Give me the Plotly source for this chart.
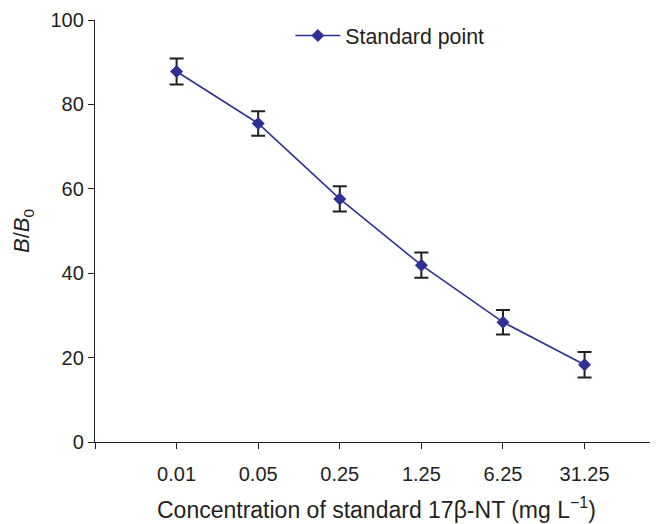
import plotly.graph_objects as go

categories = ["0.01", "0.05", "0.25", "1.25", "6.25", "31.25"]
positions = [1, 2, 3, 4, 5, 6]
values = [87.8, 75.5, 57.6, 41.9, 28.4, 18.3]
errors = [3.1, 2.9, 3.0, 3.0, 2.9, 3.0]

BLUE = "#2E3192"
INK = "#231F20"
FONT = "Liberation Sans, Arial, sans-serif"

fig = go.Figure()
fig.add_trace(go.Scatter(
    x=positions, y=values, mode="lines+markers", name="Standard point",
    line=dict(color=BLUE, width=1.6),
    marker=dict(symbol="diamond", size=10, color=BLUE),
    error_y=dict(type="data", array=errors, visible=True, color=INK, thickness=2, width=7),
))

fig.update_layout(
    width=650, height=516,
    margin=dict(l=87, r=0, t=12, b=82),
    paper_bgcolor="white", plot_bgcolor="white",
    font=dict(family=FONT, color=INK, size=20),
    showlegend=True,
    legend=dict(x=0.347, y=0.963, xanchor="left", yanchor="middle", itemwidth=45,
                bgcolor="rgba(0,0,0,0)", font=dict(size=21.3, color=INK)),
    xaxis=dict(
        range=[0, 6.9], tickmode="array", tickvals=[0] + positions,
        ticktext=[""] + categories, showline=True, linecolor=INK, linewidth=1.3,
        ticks="outside", ticklen=6, tickcolor=INK, showgrid=False, zeroline=False,
        ticklabelstandoff=8,
        title=dict(text="Concentration of standard 17β-NT (mg L<sup>−1</sup>)",
                   font=dict(size=23), standoff=17),
        tickfont=dict(size=20),
    ),
    yaxis=dict(
        range=[0, 100], tickvals=[0, 20, 40, 60, 80, 100],
        showline=True, linecolor=INK, linewidth=1.3,
        ticks="outside", ticklen=6, tickcolor=INK, showgrid=False, zeroline=False,
        title=dict(text="<i>B</i>/<i>B</i><sub>0</sub>", font=dict(size=22), standoff=14),
        tickfont=dict(size=20),
    ),
)

fig.write_html("out.html")
